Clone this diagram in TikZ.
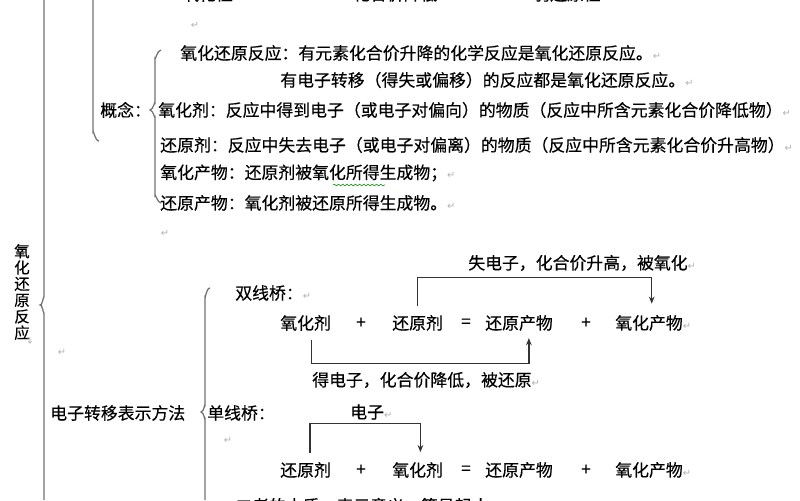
\documentclass[tikz,border=0pt]{standalone}
\usepackage{fontspec}
\setmainfont{Noto Sans CJK SC}[FakeBold=0.3]
\newfontfamily\retfont{DejaVu Sans}
\usepackage{tikz}
\usetikzlibrary{positioning,arrows.meta,decorations.pathmorphing}
\newcommand{\ret}{{\retfont\fontsize{7}{7}\selectfont\textcolor{gray!60}{↵}}}
\tikzset{
  txt/.style={anchor=west,inner sep=0pt,font=\fontsize{12}{14}\selectfont},
  term/.style={txt},
  vlabel/.style={inner sep=0pt,align=center,font=\fontsize{11}{11.6}\selectfont},
  brace/.style={draw=black!55,line width=0.9pt},
  bridge/.style={draw=black!80,line width=1pt,-{Stealth[length=5pt,width=4pt]}},
  wavy/.style={draw=green!55!black,decorate,decoration={snake,amplitude=0.6pt,segment length=3pt}}
}
\begin{document}
\begin{tikzpicture}[x=0.025cm,y=-0.025cm]
  \clip (0,0) rectangle (800,500);
  \fill[white] (0,0) rectangle (800,500);

  % braces
  \draw[brace] (44,0) -- (44,297) to[out=90,in=-60] (40,305) to[out=60,in=-90] (44,313) -- (44,500);
  \draw[brace] (93,0) -- (93,132) to[out=90,in=180] (99,141);
  \draw[brace] (161,50) to[out=180,in=-90] (155,58) -- (155,103) to[out=90,in=0] (150,110)
    to[out=0,in=-90] (155,117) -- (155,196) to[out=90,in=180] (161,203);
  \draw[brace] (210,288) to[out=180,in=-90] (205,297) -- (205,405) to[out=90,in=0] (201,412)
    to[out=0,in=-90] (205,419) -- (205,500);

  % cut off top row
  \node[txt] (top1) at (182,-6) {氧化性};
  \node[txt] (top2) at (353,-6) {化合价降低};
  \node[txt] (top3) at (533,-6) {弱还原性};

  % left labels
  \node[vlabel] (main) at (22,292) {氧\\化\\还\\原\\反\\应};
  \node[below=0pt of main,rotate=90] (mainret) {\ret};
  \node (r0) at (62,352) {\ret};
  \node[txt] (concept) at (100,110) {概念：};
  \node[txt] (method) at (50,413) {电子转移表示方法};

  % concepts
  \node (r1) at (195,25) {\ret};
  \node[txt] (def1) at (180,53) {氧化还原反应：有元素化合价升降的化学反应是氧化还原反应。\ret};
  \node[txt] (def2) at (280,80) {有电子转移（得失或偏移）的反应都是氧化还原反应。\ret};
  \node[txt] (oxag) at (158,110) {氧化剂：反应中得到电子（或电子对偏向）的物质（反应中所含元素化合价降低物）\ret};
  \node[txt] (redag) at (160,145) {还原剂：反应中失去电子（或电子对偏离）的物质（反应中所含元素化合价升高物）\ret};
  \node[txt] (oxpr) at (160,173) {氧化产物：还原剂被氧化所得生成物；\ret};
  \node[txt] (redpr) at (160,203) {还原产物：氧化剂被还原所得生成物。\ret};
  \node (r2) at (165,233) {\ret};
  \draw[wavy] (333,185) -- (385,185);

  % double bridge
  \node[txt] (dbl) at (235,293) {双线桥：\ret};
  \node[txt] (lose) at (468,263) {失电子，化合价升高，被氧化\ret};
  \node[term] (ox1) at (280,323) {氧化剂};
  \node[term] (p1) at (356,323) {+};
  \node[term] (rd1) at (392,323) {还原剂};
  \node[term] (e1) at (461,323) {=};
  \node[term] (rp1) at (485,323) {还原产物};
  \node[term] (p2) at (581,323) {+};
  \node[term] (op1) at (615,323) {氧化产物\ret};
  \node[txt] (gain) at (312,380) {得电子，化合价降低，被还原\ret};
  \draw[bridge] ([yshift=6pt]rd1.north) -- ++(0,-29) -| ([xshift=-1pt,yshift=8pt]op1.north);
  \draw[bridge] ([xshift=4pt,yshift=-6pt]ox1.south) -- ++(0,24) -| ([xshift=7pt,yshift=-5pt]rp1.south);

  % single bridge
  \node[txt] (sgl) at (207,413) {单线桥：};
  \node[txt] (elec) at (350,412) {电子\ret};
  \node (r3) at (228,440) {\ret};
  \node[term] (rd2) at (280,470) {还原剂};
  \node[term] (p3) at (356,470) {+};
  \node[term] (ox2) at (392,470) {氧化剂};
  \node[term] (e2) at (461,470) {=};
  \node[term] (rp2) at (485,470) {还原产物};
  \node[term] (p4) at (581,470) {+};
  \node[term] (op2) at (615,470) {氧化产物\ret};
  \draw[bridge] ([xshift=3pt,yshift=6pt]rd2.north) -- ++(0,-30) -| ([xshift=2pt,yshift=7pt]ox2.north);

  % cut off bottom row
  \node[txt] (note) at (235,506) {二者的本质：表示意义，箭号起止\ret};
\end{tikzpicture}
\end{document}
